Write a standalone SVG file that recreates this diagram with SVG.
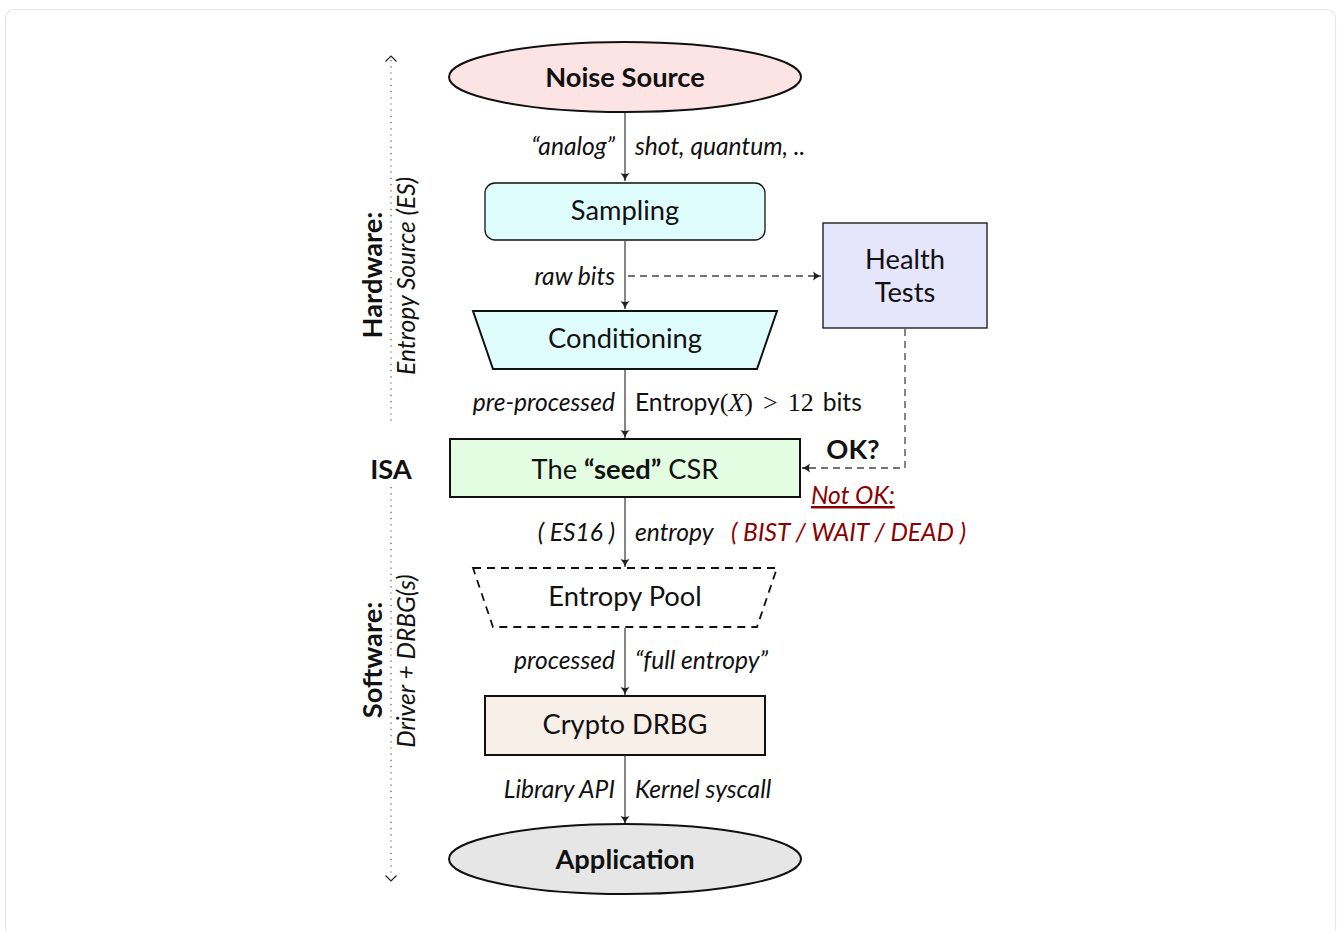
<svg xmlns="http://www.w3.org/2000/svg" width="1338" height="931" viewBox="0 0 1338 931">
<style>
.lbl{font-family:Lato,"Liberation Sans",sans-serif;font-size:24.6px;font-style:italic;fill:#111}
.node{font-family:Lato,"Liberation Sans",sans-serif;font-size:27.3px;fill:#111;text-anchor:middle}
.b{font-weight:bold}
.edge{stroke:#444;stroke-width:1.3;fill:none}
.dash{stroke:#444;stroke-width:1.3;fill:none;stroke-dasharray:7,5}
.red{fill:#8b0000}
.math{font-family:"Liberation Serif","DejaVu Serif",serif;font-style:normal;font-size:26px}
</style>
<defs>
<marker id="arr" markerWidth="12" markerHeight="12" refX="10" refY="6" orient="auto" markerUnits="userSpaceOnUse">
<path d="M2,1.5 Q6,5 10,6 Q6,7 2,10.5 Q4,6 2,1.5 Z" fill="#222"/>
</marker>
</defs>
<rect x="5.5" y="9.5" width="1330" height="940" rx="9" fill="#fff" stroke="#e8e8e8" stroke-width="1.2"/>

<g id="side">
<line x1="391" y1="60" x2="391" y2="425" stroke="#555" stroke-width="1.2" stroke-dasharray="1.2,5"/>
<line x1="391" y1="487" x2="391" y2="877" stroke="#555" stroke-width="1.2" stroke-dasharray="1.2,5"/>
<path d="M385.5,61.5 L391,56 L396.5,61.5" fill="none" stroke="#222" stroke-width="1.2"/>
<path d="M385.5,875.5 L391,881 L396.5,875.5" fill="none" stroke="#222" stroke-width="1.2"/>
<text x="391" y="479" class="node b" font-size="26.5">ISA</text>
<text transform="translate(382,275) rotate(-90)" class="node b" font-size="23">Hardware:</text>
<text transform="translate(415,276) rotate(-90)" class="lbl" text-anchor="middle">Entropy Source (ES)</text>
<text transform="translate(382,660) rotate(-90)" class="node b" font-size="23">Software:</text>
<text transform="translate(415,661) rotate(-90)" class="lbl" text-anchor="middle">Driver + DRBG(s)</text>
</g>

<g id="connectors">
<line x1="625" y1="112" x2="625" y2="181" class="edge" marker-end="url(#arr)"/>
<line x1="625" y1="241" x2="625" y2="309" class="edge" marker-end="url(#arr)"/>
<line x1="625" y1="370" x2="625" y2="438" class="edge" marker-end="url(#arr)"/>
<line x1="625" y1="498" x2="625" y2="567" class="edge" marker-end="url(#arr)"/>
<line x1="625" y1="628" x2="625" y2="695" class="edge" marker-end="url(#arr)"/>
<line x1="625" y1="756" x2="625" y2="824" class="edge" marker-end="url(#arr)"/>
<line x1="628" y1="276" x2="821" y2="276" class="dash" marker-end="url(#arr)"/>
<path d="M905,329 L905,468 L802,468" class="dash" marker-end="url(#arr)"/>
<text x="615" y="155" class="lbl" text-anchor="end">“analog”</text>
<text x="635" y="155" class="lbl">shot, quantum, ..</text>
<text x="615" y="285" class="lbl" text-anchor="end">raw bits</text>
<text x="615" y="411" class="lbl" text-anchor="end">pre-processed</text>
<text x="635" y="411" class="lbl" style="font-style:normal">Entropy<tspan class="math">(<tspan font-style="italic">X</tspan>)</tspan><tspan class="math" dx="10">&gt;</tspan><tspan class="math" dx="10">12</tspan><tspan dx="9">bits</tspan></text>
<text x="853" y="459" class="node b" font-size="22.5">OK?</text>
<text x="811" y="504" class="lbl red" text-decoration="underline">Not OK:</text>
<text x="731" y="541" class="lbl red">( BIST / WAIT / DEAD )</text>
<text x="615" y="541" class="lbl" text-anchor="end">( ES16 )</text>
<text x="635" y="541" class="lbl">entropy</text>
<text x="615" y="669" class="lbl" text-anchor="end">processed</text>
<text x="635" y="669" class="lbl">“full entropy”</text>
<text x="615" y="798" class="lbl" text-anchor="end">Library API</text>
<text x="635" y="798" class="lbl">Kernel syscall</text>
</g>

<g id="noise">
<ellipse cx="625" cy="77" rx="176" ry="35" fill="#fde4e4" stroke="#111" stroke-width="2"/>
<text x="625" y="87" class="node b">Noise Source</text>
</g>
<g id="sampling">
<rect x="485" y="183" width="280" height="57" rx="10" fill="#e0fdfd" stroke="#111" stroke-width="1.3"/>
<text x="625" y="220" class="node">Sampling</text>
</g>
<g id="health">
<rect x="823" y="223" width="164" height="105" fill="#e5e5fb" stroke="#111" stroke-width="1.3"/>
<text x="905" y="269" class="node">Health</text>
<text x="905" y="302" class="node">Tests</text>
</g>
<g id="conditioning">
<path d="M473,311 L777,311 L757,369 L493,369 Z" fill="#e0fdfd" stroke="#111" stroke-width="2"/>
<text x="625" y="348" class="node">Conditioning</text>
</g>
<g id="seed">
<rect x="450" y="439" width="350" height="58" fill="#e3fde3" stroke="#111" stroke-width="2"/>
<text x="625" y="479" class="node">The <tspan class="b">“seed”</tspan> CSR</text>
</g>
<g id="pool">
<path d="M473,568 L777,568 L757,627 L493,627 Z" fill="#fff" stroke="#111" stroke-width="1.8" stroke-dasharray="8,6"/>
<text x="625" y="606" class="node">Entropy Pool</text>
</g>
<g id="drbg">
<rect x="485" y="696" width="280" height="59" fill="#f8efe9" stroke="#111" stroke-width="2"/>
<text x="625" y="734" class="node">Crypto DRBG</text>
</g>
<g id="application">
<ellipse cx="625" cy="859" rx="176" ry="35" fill="#e6e6e6" stroke="#111" stroke-width="2"/>
<text x="625" y="869" class="node b">Application</text>
</g>
</svg>
